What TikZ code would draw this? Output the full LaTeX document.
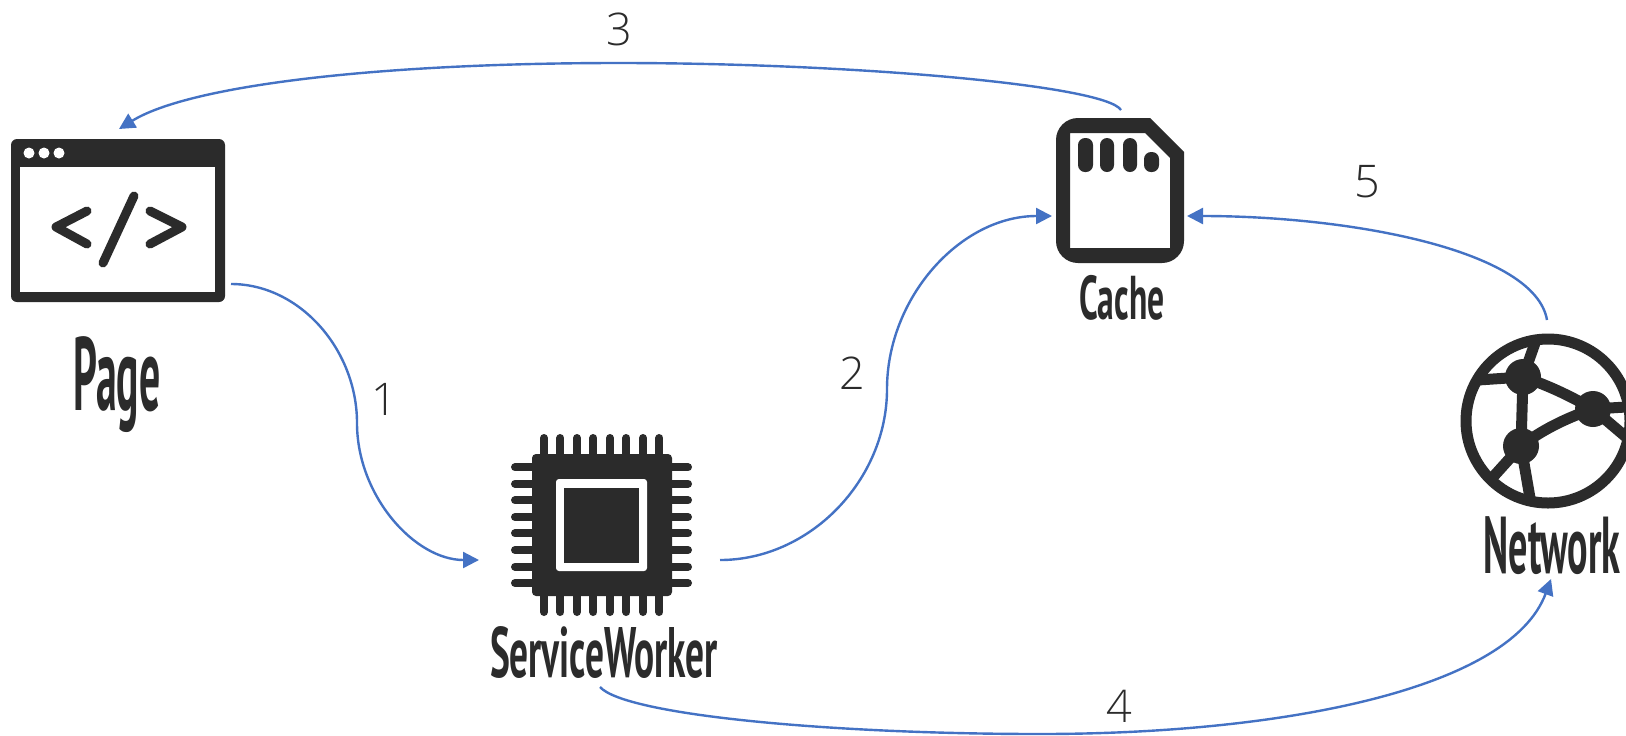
\documentclass[tikz,border=0pt]{standalone}
\usepackage{fontspec}
\usepackage{graphicx}
\usetikzlibrary{arrows.meta}
\setmainfont{PT Sans}
\newfontfamily\numfont{Open Sans Light}
\definecolor{dark}{HTML}{2B2B2B}
\definecolor{flow}{HTML}{4472C4}
\tikzset{
  flowline/.style={draw=flow,line width=1.2pt,-{Triangle[length=8pt,width=8pt]}},
  numlabel/.style={text=dark,font=\numfont\fontsize{22.5pt}{24pt}\selectfont,inner sep=0pt},
  hand/.style={text=dark,inner sep=0pt,font=\bfseries},
  icon/.style={draw=dark,line cap=round,line join=round},
  pin/.style={icon,line width=4pt},
  link/.style={draw=dark,line width=5.5pt,line cap=round},
  hub/.style={fill=dark}
}
\begin{document}
\begin{tikzpicture}[x=0.5pt,y=-0.5pt]
\useasboundingbox (0,0) rectangle (1626,735);
\fill[white] (0,0) rectangle (1626,735);
\clip (0,0) rectangle (1626,735);

% Page icon
\fill[dark,rounded corners=3pt] (11,139) rectangle (225,302);
\fill[white] (20,167) rectangle (215,292);
\foreach \x in {29,44,59} \fill[white] (\x,153) circle (5.5);
\draw[icon,line width=4.5pt] (87,211) -- (56,227) -- (87,244);
\draw[icon,line width=4.5pt] (134,196) -- (103,263);
\draw[icon,line width=4.5pt] (150,211) -- (182,227) -- (150,244);
\node[hand] (pagelabel) at (117,385) {\resizebox*{43.5pt}{48pt}{Page}};

% Chip icon
\foreach \x in {544,560.4,577,593.4,610,626.4,643,659.4} {
  \draw[pin] (\x,438) -- (\x,612);
}
\foreach \y in {467.3,483.7,500.3,517,533.3,550,566.7,583} {
  \draw[pin] (515,\y) -- (688,\y);
}
\fill[dark,rounded corners=2pt] (532,454) rectangle (672,596);
\fill[white,rounded corners=1.5pt] (556,479) rectangle (647,571);
\fill[dark] (564,488) rectangle (639,563);
\node[hand] (swlabel) at (604,652) {\resizebox*{114pt}{26pt}{ServiceWorker}};

% Cache icon
\fill[dark,even odd rule]
  (1056,140) arc[start angle=180,end angle=270,radius=22]
  -- (1150,118) -- (1184,152) -- (1184,241)
  arc[start angle=0,end angle=90,radius=22]
  -- (1078,263) arc[start angle=90,end angle=180,radius=22] -- cycle
  (1070,133) -- (1145,133) -- (1170,158) -- (1170,248) -- (1070,248) -- cycle;
\foreach \a/\b/\t in {1078/1093/138,1100/1114/138,1123/1137/138,1144/1159/152} {
  \fill[dark,rounded corners=3.5pt] (\a,\t) rectangle (\b,172);
}
\node[hand] (cachelabel) at (1122,298) {\resizebox*{42.5pt}{22.5pt}{Cache}};

% Network icon
\draw[dark,line width=5.5pt] (1548,421) circle (82);
\draw[link] (1523,377) -- (1535,343);
\draw[link] (1523,377) -- (1478,380);
\draw[link] (1523,377) .. controls (1550,386) and (1572,397) .. (1593,409);
\draw[link] (1523,377) -- (1521,446);
\draw[link] (1521,446) .. controls (1542,430) and (1566,418) .. (1593,409);
\draw[link] (1521,446) -- (1493,477);
\draw[link] (1521,446) -- (1530,498);
\draw[link] (1593,409) -- (1626,407);
\draw[link] (1593,409) -- (1626,437);
\fill[hub] (1523,377) circle (18);
\fill[hub] (1593,409) circle (18);
\fill[hub] (1521,446) circle (18);
\node[hand] (netlabel) at (1552,546) {\resizebox*{68.5pt}{29pt}{Network}};

% connector ends
\coordinate (a1) at (231,284);
\coordinate (b1) at (479,560);
\coordinate (a2) at (720,560);
\coordinate (b2) at (1052,216);
\coordinate (a3) at (1121,110);
\coordinate (b3) at (119,129);
\coordinate (a4) at (600,687);
\coordinate (b4) at (1551,579);
\coordinate (a5) at (1547,320);
\coordinate (b5) at (1187,216);

\draw[flowline] (a1) .. controls (300,284) and (357,350) .. (357,423)
  .. controls (357,496) and (415,560) .. (b1);
\draw[flowline] (a2) .. controls (810,560) and (887,480) .. (887,389)
  .. controls (887,298) and (960,216) .. (b2);
\draw[flowline] (a3) .. controls (1105,85) and (850,63) .. (619,63)
  .. controls (380,63) and (190,85) .. (b3);
\draw[flowline] (a4) .. controls (625,715) and (830,734) .. (1040,734)
  .. controls (1280,734) and (1510,690) .. (b4);
\draw[flowline] (a5) .. controls (1535,250) and (1350,216) .. (b5);

\node[numlabel] (n1) at (384,399) {1};
\node[numlabel] (n2) at (852,373) {2};
\node[numlabel] (n3) at (619,29) {3};
\node[numlabel] (n4) at (1119,706) {4};
\node[numlabel] (n5) at (1367,182) {5};
\end{tikzpicture}
\end{document}
